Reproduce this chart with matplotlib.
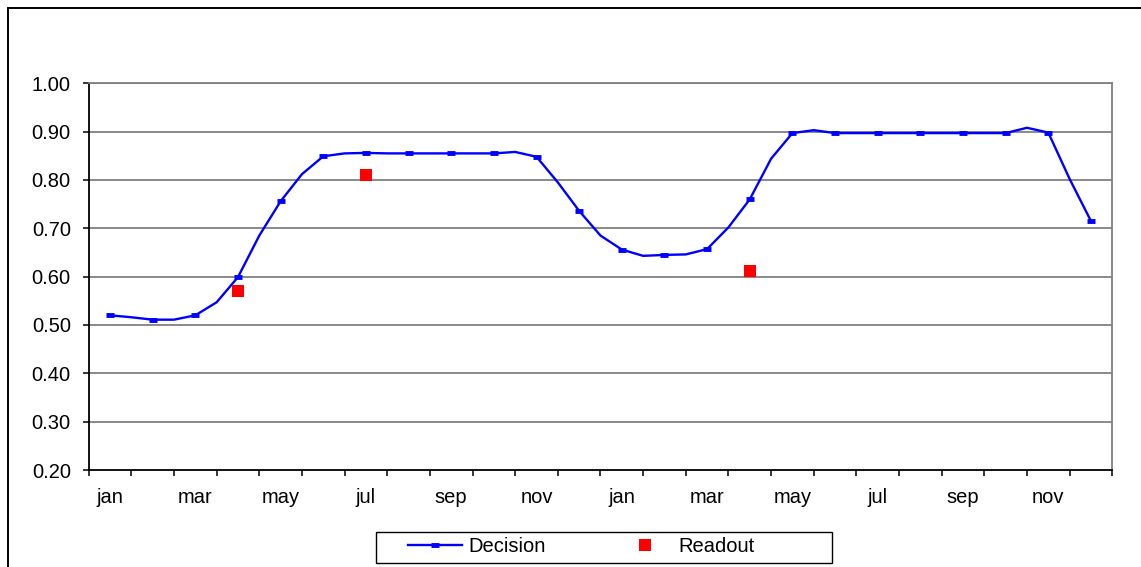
import matplotlib
matplotlib.use("Agg")
import matplotlib.pyplot as plt
from matplotlib.patches import Rectangle
import numpy as np

plt.rcParams['font.family'] = ['Liberation Sans', 'DejaVu Sans']

# ---- data ----
month_labels = ["jan", "feb", "mar", "apr", "may", "jun", "jul", "aug", "sep", "oct", "nov", "dec",
                "jan", "feb", "mar", "apr", "may", "jun", "jul", "aug", "sep", "oct", "nov", "dec"]
# Decision line sampled every half month (month index 0, 0.5, ..., 23)
decision_t = [i * 0.5 for i in range(47)]
decision_vals = [0.520, 0.516, 0.511, 0.511, 0.520, 0.547, 0.599, 0.685, 0.756, 0.812,
                 0.849, 0.855, 0.856, 0.855, 0.855, 0.855, 0.855, 0.855, 0.855, 0.858,
                 0.848, 0.795, 0.736, 0.685, 0.656, 0.643, 0.645, 0.646, 0.657, 0.702,
                 0.760, 0.844, 0.897, 0.903, 0.897, 0.897, 0.897, 0.897, 0.897, 0.897,
                 0.897, 0.897, 0.897, 0.908, 0.898, 0.802, 0.715]
readout_t = [3, 6, 15]
readout_vals = [0.570, 0.811, 0.611]
y_ticks = [0.2, 0.3, 0.4, 0.5, 0.6, 0.7, 0.8, 0.9, 1.0]

W, H = 1141, 567
FS = 14.5
fig = plt.figure(figsize=(W / 100, H / 100), dpi=100)
ax = fig.add_axes([88.7 / W, 1 - 470 / H, (1112.3 - 88.7) / W, (470 - 83.3) / H])

grid_col = "#808080"
for v in y_ticks[1:]:
    ax.axhline(v, color=grid_col, lw=1.3, zorder=1)

ax.plot(decision_t, decision_vals, color="#0000FF", lw=1.7, marker="_", markersize=6,
        markeredgewidth=3.5, markevery=2, label="Decision", zorder=3)
ax.plot(readout_t, readout_vals, linestyle="none", marker="s", markersize=8.8,
        color="#FF0000", markeredgewidth=0, label="Readout", zorder=4)

ax.set_xlim(-0.5, 23.5)
ax.set_ylim(0.2, 1.0)
ax.set_yticks(y_ticks)
ax.set_yticklabels([f"{v:.2f}" for v in y_ticks])
ax.set_xticks(np.arange(-0.5, 24, 1.0))
ax.set_xticklabels([])
ax.set_xticks(np.arange(0, 24, 2), minor=True)
ax.set_xticklabels(month_labels[::2], minor=True)

ax.tick_params(axis="y", direction="out", length=4.5, width=1.1, pad=8.4,
               labelsize=FS, colors="black")
ax.tick_params(axis="x", which="major", direction="out", length=4.5, width=1.1)
ax.tick_params(axis="x", which="minor", length=0, pad=13, labelsize=FS)

for s in ["left", "bottom"]:
    ax.spines[s].set_color("black")
    ax.spines[s].set_linewidth(1.3)
for s in ["top", "right"]:
    ax.spines[s].set_color(grid_col)
    ax.spines[s].set_linewidth(1.3)

# chart outer border (extends beyond the image right/bottom)
fig.patches.append(Rectangle((7.5 / W, -0.1), 1.2, 1 - 7.5 / H + 0.1, transform=fig.transFigure,
                             fill=False, edgecolor="black", lw=1.4, zorder=0))

# legend box
lx0, lx1, ly0, ly1 = 375.7, 832, 531.7, 563.3
fig.patches.append(Rectangle((lx0 / W, 1 - ly1 / H), (lx1 - lx0) / W, (ly1 - ly0) / H,
                             transform=fig.transFigure, fill=False, edgecolor="black", lw=1.0))
fig.legend(loc="center", bbox_to_anchor=(581 / W, 1 - 547 / H), ncol=2, frameon=False,
           fontsize=FS, handlelength=2.7, handletextpad=0.3, columnspacing=3.6,
           borderpad=0, borderaxespad=0)

fig.savefig("out.png", dpi=100)
